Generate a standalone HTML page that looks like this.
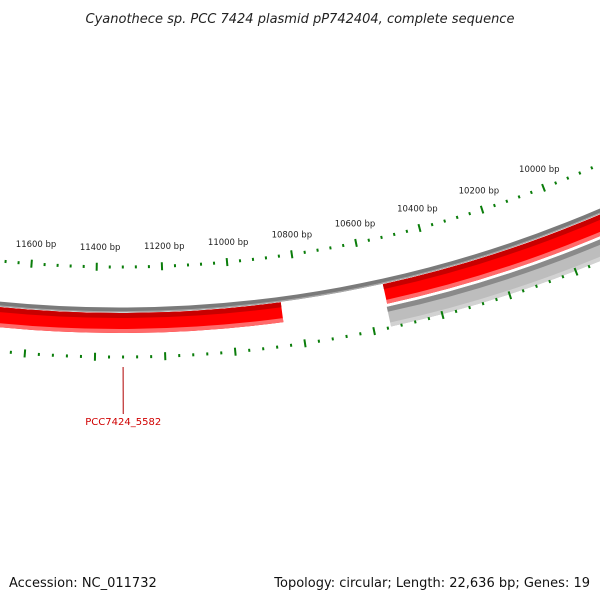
<!DOCTYPE html>
<html><head><meta charset="utf-8"><style>
html,body{margin:0;padding:0;background:#fff;}
svg{display:block;font-family:"DejaVu Sans","Liberation Sans",sans-serif;}
</style></head><body>
<svg id="map" width="600" height="600" viewBox="0 0 600 600" xmlns="http://www.w3.org/2000/svg">
<text x="300" y="23" text-anchor="middle" font-size="13" font-style="italic" fill="#222">Cyanothece sp. PCC 7424 plasmid pP742404, complete sequence</text>
<g id="layer"></g>
<text x="9" y="587" font-size="13" fill="#111">Accession: NC_011732</text>
<text x="590" y="587" text-anchor="end" font-size="13" fill="#111">Topology: circular; Length: 22,636 bp; Genes: 19</text>
</svg>
<script>
const seqLength = 22636;
const majorTicks = [12000,11800,11600,11400,11200,11000,10800,10600,10400,10200,10000,9800,9600];
const labelTicks = [11600,11400,11200,11000,10800,10600,10400,10200,10000];
const tickLabels = ["11600 bp","11400 bp","11200 bp","11000 bp","10800 bp","10600 bp","10400 bp","10200 bp","10000 bp"];
const minorStep = 40;
const geneStarts = [10853, 10547, 10550];
const geneEnds = [12600, 9300, 9300];
const geneStrand = ["fwd","fwd","rev"];
const geneNames = ["PCC7424_5582","",""];
const geneLabelBp = [11320];

const CX=119.4, CY=-908, K=2*Math.PI/seqLength;
function ang(bp){return 0.175-(bp-10700)*K;}
function pt(bp,r){const t=ang(bp);return [CX+r*Math.sin(t), CY+r*Math.cos(t)];}
const NS="http://www.w3.org/2000/svg";
const layer=document.getElementById('layer');
function mk(tag,attrs){const e=document.createElementNS(NS,tag);for(const k in attrs)e.setAttribute(k,attrs[k]);layer.appendChild(e);return e;}
function band(a,b,r1,r2,fill,arrow){
  const head=arrow?15:0;
  const p1=pt(b,r1),p2=pt(a+head,r1),p3=pt(b,r2),p4=pt(a+head,r2);
  let d=`M${p1} A${r1},${r1} 0 0 0 ${p2} `;
  if(arrow){const tip=pt(a,(r1+r2)/2);d+=`L${tip} `;}
  d+=`L${p4} A${r2},${r2} 0 0 1 ${p3} Z`;
  return mk('path',{d:d,fill:fill});
}
let e=mk('circle',{cx:CX,cy:CY,r:1218,fill:'none',stroke:'#7a7a7a','stroke-width':5});


e=mk('circle',{cx:CX,cy:CY,r:1219.8,fill:'none',stroke:'#a8a8a8','stroke-width':1.2});


for(let i=0;i<geneStarts.length;i++){
  const a=geneStarts[i],b=geneEnds[i];
  const lo=Math.min(a,b),hi=Math.max(a,b);
  const arrow=(i===1);
  let r0,cols;
  if(geneStrand[i]==="fwd"){r0=1221;cols=['#c80000','#ff0000','#ff6a6a'];}
  else{r0=1244;cols=['#8a8a8a','#bdbdbd','#d2d2d2'];}
  const g=band(lo,hi,r0,r0+20,cols[1],arrow);
  
  
  const t=band(lo+(arrow?8:0),hi,r0,r0+5,cols[0],false);
  
  
  const bt=band(lo+(arrow?8:0),hi,r0+16,r0+20,cols[2],false);
  
  
}
for(let bp=9200;bp<=12600;bp+=minorStep){
  const major=majorTicks.includes(bp);
  const len=major?4:1.5;
  [1175,1265].forEach(function(r){
    const p=pt(bp,r-len),q=pt(bp,r+len);
    const l=mk('line',{x1:p[0],y1:p[1],x2:q[0],y2:q[1],stroke:'#0a7d0a','stroke-width':2});
    
    
  });
}
labelTicks.forEach(function(bp,i){
  const p=pt(bp,1155);
  const t=mk('text',{x:p[0]+3,y:p[1]+3,'text-anchor':'middle','font-size':8.5,fill:'#222'});
  t.textContent=tickLabels[i];
  
  
});
const p=pt(geneLabelBp[0],1275),q=pt(geneLabelBp[0],1322);
e=mk('line',{x1:p[0],y1:p[1],x2:q[0],y2:q[1],stroke:'#b00000','stroke-width':1});


const lt=mk('text',{x:q[0],y:q[1]+11,'text-anchor':'middle','font-size':10,fill:'#d00000'});
lt.textContent=geneNames[0];


</script>
</body></html>
